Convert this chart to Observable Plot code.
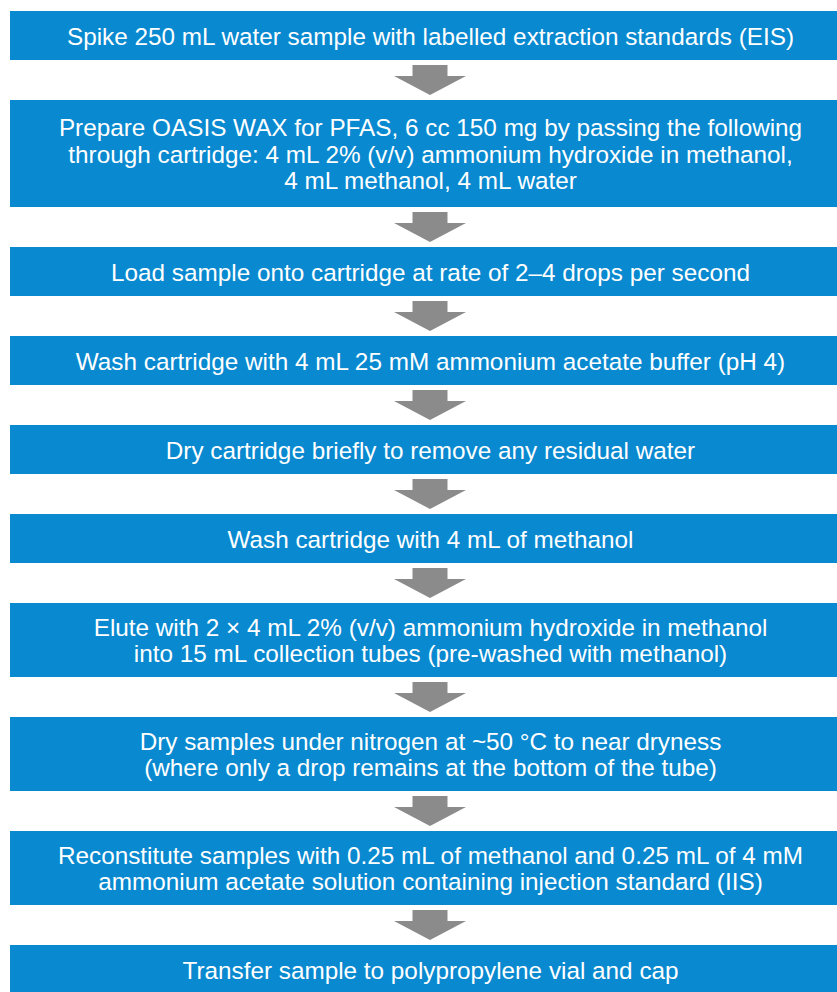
<!DOCTYPE html>
<html>
<head>
<meta charset="utf-8">
<script src="https://cdn.jsdelivr.net/npm/d3@7"></script>
<script src="https://cdn.jsdelivr.net/npm/@observablehq/plot@0.6"></script>
<style>
  html, body { margin: 0; padding: 0; background: #ffffff; }
  #chart svg { display: block; }
</style>
</head>
<body>
<div id="chart"></div>
<script>
// ---- Data: the steps of the procedure (each line of a step separated by "\n")
const steps = [
  "Spike 250 mL water sample with labelled extraction standards (EIS)",
  "Prepare OASIS WAX for PFAS, 6 cc 150 mg by passing the following\nthrough cartridge: 4 mL 2% (v/v) ammonium hydroxide in methanol,\n4 mL methanol, 4 mL water",
  "Load sample onto cartridge at rate of 2\u20134 drops per second",
  "Wash cartridge with 4 mL 25 mM ammonium acetate buffer (pH 4)",
  "Dry cartridge briefly to remove any residual water",
  "Wash cartridge with 4 mL of methanol",
  "Elute with 2 \u00d7 4 mL 2% (v/v) ammonium hydroxide in methanol\ninto 15 mL collection tubes (pre-washed with methanol)",
  "Dry samples under nitrogen at ~50 \u00b0C to near dryness\n(where only a drop remains at the bottom of the tube)",
  "Reconstitute samples with 0.25 mL of methanol and 0.25 mL of 4 mM\nammonium acetate solution containing injection standard (IIS)",
  "Transfer sample to polypropylene vial and cap"
];

// ---- Layout (drawing constants, computed from the steps)
const W = 837, H = 992;
const boxLeft = 10, boxRight = 850, centerX = 430;
const startY = 11, gap = 40;
const heightFor = n => (n === 1 ? 49 : n === 2 ? 74 : 107);
const BLUE = "#0889d0", GREY = "#8b8b8b";

let cursor = startY;
const boxes = steps.map((text, i) => {
  const lines = text.split("\n").length;
  const h = heightFor(lines);
  const b = {i, text, y1: cursor, y2: cursor + h};
  cursor += h + gap;
  return b;
});

// arrows between consecutive boxes
const shafts = [];
const heads = [];
boxes.slice(0, -1).forEach((b, i) => {
  const next = boxes[i + 1];
  const g = next.y1 - b.y2;
  const top = b.y2 + (g - 30) / 2;
  const base = top + 11;
  const tip = base + 19;
  shafts.push({i, x1: centerX - 17.5, x2: centerX + 17.5, y1: top, y2: base + 0.5});
  heads.push({i, x: centerX - 36, y1: base, y2: base});
  heads.push({i, x: centerX, y1: base, y2: tip});
  heads.push({i, x: centerX + 36, y1: base, y2: base});
});

const chart = Plot.plot({
  width: W,
  height: H,
  margin: 0,
  x: {domain: [0, W], range: [0, W], axis: null},
  y: {domain: [0, H], range: [0, H], axis: null},
  style: {fontFamily: "'Liberation Sans', Arial, Helvetica, sans-serif", background: "#ffffff"},
  marks: [
    Plot.rect(boxes, {x1: boxLeft, x2: boxRight, y1: "y1", y2: "y2", fill: BLUE}),
    Plot.rect(shafts, {x1: "x1", x2: "x2", y1: "y1", y2: "y2", fill: GREY}),
    Plot.areaY(heads, {x: "x", y1: "y1", y2: "y2", z: "i", fill: GREY, curve: "linear"}),
    Plot.text(boxes, {
      x: centerX,
      y: d => (d.y1 + d.y2) / 2,
      text: "text",
      fill: "#ffffff",
      fontSize: 24.3,
      lineHeight: 1.1,
      textAnchor: "middle"
    })
  ]
});
document.getElementById("chart").appendChild(chart);
</script>
</body>
</html>
